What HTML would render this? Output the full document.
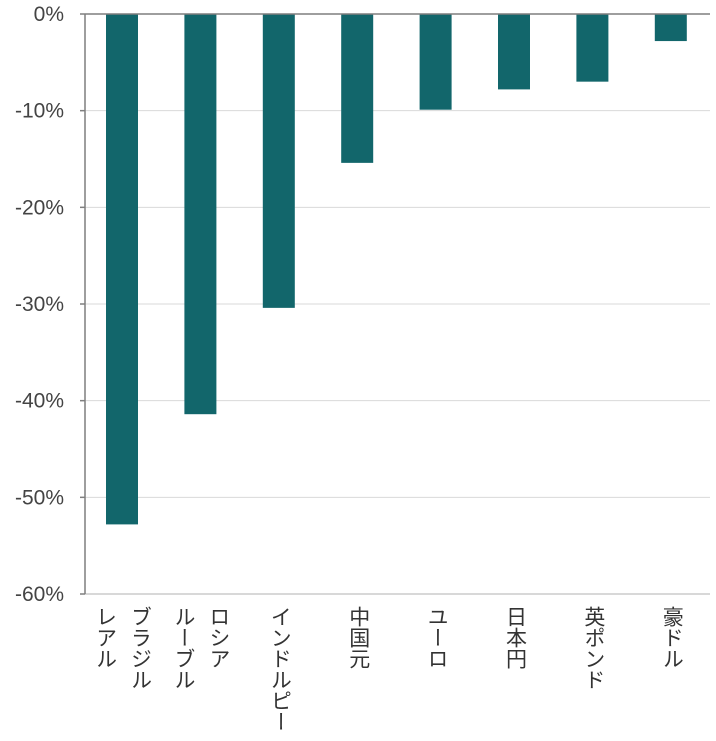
<!DOCTYPE html>
<html><head><meta charset="utf-8">
<style>
body{margin:0;background:#fff;width:716px;height:736px;overflow:hidden;font-family:"Liberation Sans","Noto Sans CJK JP",sans-serif;}
svg text{font-family:"Liberation Sans","Noto Sans CJK JP",sans-serif;}
</style></head>
<body>
<svg id="chart" width="716" height="736" xmlns="http://www.w3.org/2000/svg"></svg>
<script>
const categories = [["ブラジル","レアル"],["ロシア","ルーブル"],["インドルピー"],["中国元"],["ユーロ"],["日本円"],["英ポンド"],["豪ドル"]];
const values = [-52.8, -41.4, -30.4, -15.4, -9.9, -7.8, -7.0, -2.8];
const ticks = [0, -10, -20, -30, -40, -50, -60];
const tickLabels = ["0%","-10%","-20%","-30%","-40%","-50%","-60%"];

const NS = "http://www.w3.org/2000/svg";
const svg = document.getElementById("chart");
const x0 = 85, x1 = 710, yTop = 14, yBot = 594;
const y = v => yTop + (0 - v) / 60 * (yBot - yTop);
const xc = i => 122 + i * 78.4;
function mk(tag, attrs){const e=document.createElementNS(NS,tag);for(const k in attrs)e.setAttribute(k,attrs[k]);svg.appendChild(e);return e;}

ticks.forEach((t,i)=>{
  const gy = y(t);
  const g = mk("line",{x1:x0,x2:x1,y1:gy,y2:gy,stroke:(t===-60?"#b0b0b0":"#d9d9d9"),"stroke-width":1});
  
  
  const tk = mk("line",{x1:x0-5,x2:x0,y1:gy,y2:gy,stroke:"#7f7f7f","stroke-width":1.5});
  
  
  const tl = mk("text",{x:64,y:gy+7,"text-anchor":"end","font-size":21,fill:"#444"});
  tl.textContent = tickLabels[i];
  
  
});

values.forEach((v,i)=>{
  const b = mk("rect",{x:xc(i)-16,y:y(0),width:32,height:y(v)-y(0),fill:"#12666b"});
  
  
  const lines = categories[i];
  lines.forEach((s,j)=>{
    const cx = lines.length===2 ? xc(i) + (j===0?18:-17) : xc(i)+1;
    const t = mk("text",{x:cx,y:606,"font-size":21,fill:"#333","writing-mode":"vertical-rl","text-anchor":"start"});
    t.setAttribute("style","writing-mode:vertical-rl;");
    t.textContent = s;
    
    
  });
});

const ax = mk("line",{x1:x0,x2:x0,y1:yTop,y2:yBot,stroke:"#7f7f7f","stroke-width":1.5});


const zl = mk("line",{x1:x0,x2:x1,y1:yTop,y2:yTop,stroke:"#7f7f7f","stroke-width":1.5});


</script>
</body></html>
